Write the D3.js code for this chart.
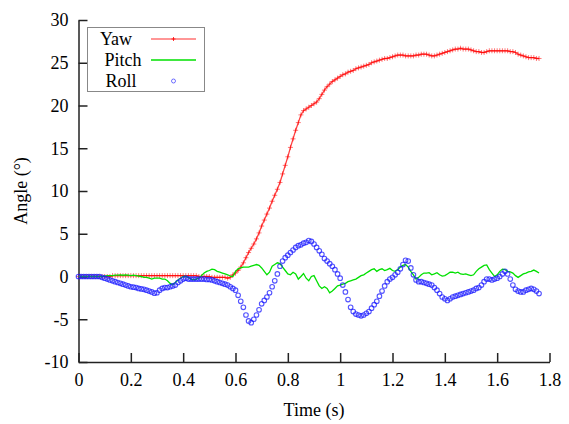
<!DOCTYPE html>
<html><head><meta charset="utf-8">
<script src="https://cdn.jsdelivr.net/npm/d3@7"></script>
<style>body{margin:0;background:#fff}svg{display:block}text{font-family:"Liberation Serif","Times New Roman",serif;fill:#000}</style>
</head><body><svg id="c" width="569" height="424"></svg>
<script>
const timeStep = 0.01; // seconds between samples
const yaw = [
0,0,0,0,0,0,0,0,0,0,
0,0,0,0.1,0.1,0.1,0.1,0.1,0.1,0.1,
0.1,0.1,0.1,0.1,0.1,0.1,0.1,0.1,0.1,0.1,
0.1,0.1,0.1,0.1,0.1,0.1,0.1,0.1,0.1,0.1,
0.1,0.1,0.1,0.1,0.1,0.1,0,0,0,0,
0,-0.1,-0.1,-0.1,-0.1,-0.1,-0.1,-0.2,-0.1,0.2,
0.4,0.7,1.1,1.6,2.2,2.8,3.3,3.8,4.4,5.1,
5.9,6.6,7.3,8.0,8.8,9.5,10.2,11.0,12.0,13.0,
14.0,15.1,16.1,17.1,18.0,18.9,19.4,19.6,19.8,20.0,
20.2,20.4,20.8,21.3,21.8,22.2,22.5,22.8,23.0,23.2,
23.4,23.6,23.7,23.9,24.0,24.1,24.3,24.4,24.5,24.6,
24.7,24.8,25.0,25.1,25.2,25.3,25.4,25.5,25.5,25.6,
25.7,25.8,25.9,25.9,25.9,25.8,25.8,25.8,25.8,25.9,
25.9,26.0,26.0,26.0,25.9,25.8,25.8,25.9,26.0,26.1,
26.2,26.3,26.4,26.5,26.6,26.6,26.7,26.6,26.6,26.6,
26.5,26.4,26.3,26.3,26.2,26.2,26.3,26.4,26.4,26.4,
26.4,26.4,26.4,26.4,26.4,26.3,26.3,26.2,26.0,25.9,
25.8,25.7,25.6,25.6,25.6,25.5,25.5];
const pitch = [
0,0,0,0,0,0,0,0,0,0,
0.05,0.1,0.1,0.1,0.15,0.15,0.2,0.15,0.2,0.15,
0.1,0.15,0.1,0.05,0,-0.1,-0.1,-0.2,-0.3,-0.2,
-0.2,-0.2,-0.3,-0.3,-0.5,-0.8,-0.95,-0.7,-0.4,-0.2,
0,0,-0.1,-0.3,-0.4,-0.3,-0.2,0.1,0.4,0.6,
0.7,0.85,0.8,0.6,0.5,0.4,0.3,0.2,0.05,0,
0.6,0.9,1.0,1.1,1.1,1.1,1.2,1.3,1.4,1.3,
1.0,0.6,0.2,0.5,1.2,1.4,1.6,1.5,1.1,0.7,
0.3,0.2,0.5,0.3,-0.3,0.0,0.35,-0.2,-0.5,0.0,
0.1,-0.5,-1.1,-1.4,-1.2,-1.4,-1.9,-1.7,-1.4,-1.1,
-1.0,-0.9,-0.8,-0.6,-0.5,-0.4,-0.3,-0.1,0.1,0.2,
0.4,0.6,0.8,0.9,0.6,0.8,0.9,0.7,0.8,0.95,
0.7,0.6,0.8,1.1,1.3,1.4,1.1,0.6,0.2,-0.3,
-0.1,0.2,0.4,0.4,0.45,0.2,0.3,0.45,0.2,0.05,
0.1,0.3,0.5,0.5,0.4,0.5,0.3,0.25,0.3,0.2,
0.1,0.2,0.6,0.9,1.1,1.3,1.35,0.8,0.4,0.0,
0.2,0.6,0.85,0.8,0.6,0.55,0.4,0.1,-0.1,0.1,
0.3,0.4,0.55,0.6,0.75,0.6,0.4];
const roll = [
0,0,0,0,0,0,0,0,0,-0.1,
-0.2,-0.3,-0.4,-0.5,-0.6,-0.7,-0.8,-0.9,-1.0,-1.1,
-1.2,-1.25,-1.3,-1.4,-1.45,-1.5,-1.6,-1.7,-1.8,-1.95,
-1.9,-1.6,-1.4,-1.3,-1.3,-1.2,-1.1,-1.0,-0.7,-0.5,
-0.3,-0.2,-0.3,-0.3,-0.3,-0.3,-0.3,-0.3,-0.3,-0.35,
-0.35,-0.4,-0.5,-0.6,-0.7,-0.8,-0.9,-1.0,-1.2,-1.4,
-1.6,-2.2,-2.9,-3.6,-4.5,-5.2,-5.4,-5.0,-4.5,-3.9,
-3.2,-2.8,-2.4,-1.9,-1.2,-0.5,0.3,1.2,1.8,2.2,
2.5,2.8,3.1,3.4,3.6,3.7,3.9,4.0,4.2,4.1,
3.8,3.4,3.0,2.6,2.1,1.8,1.5,1.2,0.8,0.3,
-0.2,-1.0,-1.8,-2.7,-3.6,-4.1,-4.4,-4.5,-4.6,-4.5,
-4.3,-4.1,-3.7,-3.3,-2.9,-2.3,-1.7,-1.1,-0.6,-0.3,
-0.1,0.2,0.5,0.9,1.4,1.9,1.8,1.0,0.2,-0.4,
-0.6,-0.6,-0.7,-0.8,-0.9,-1.0,-1.3,-1.6,-2.0,-2.4,
-2.6,-2.8,-2.6,-2.4,-2.3,-2.2,-2.1,-2.0,-1.9,-1.8,
-1.7,-1.6,-1.4,-1.3,-1.0,-0.6,-0.3,-0.3,-0.4,-0.3,
-0.2,0.0,0.3,0.6,0.3,-0.3,-1.0,-1.5,-1.7,-1.8,
-1.8,-1.6,-1.5,-1.4,-1.5,-1.7,-2.0];
const xTicks = [0,0.2,0.4,0.6,0.8,1,1.2,1.4,1.6,1.8];
const xTickLabels = ["0","0.2","0.4","0.6","0.8","1","1.2","1.4","1.6","1.8"];
const yTicks = [-10,-5,0,5,10,15,20,25,30];
const yTickLabels = ["-10","-5","0","5","10","15","20","25","30"];
const seriesNames = ["Yaw","Pitch","Roll"];
const xTitle = "Time (s)";
const yTitle = "Angle (°)";

const svg = d3.select("#c");
const x = d3.scaleLinear().domain([0,1.8]).range([78.5,549.5]);
const y = d3.scaleLinear().domain([-10,30]).range([362,20]);
const fs = 18;

const pts = arr => arr.map((v,i)=>({t:i*timeStep, v}));
const Y = pts(yaw), P = pts(pitch), R = pts(roll);
const line = d3.line().x(d=>x(d.t)).y(d=>y(d.v));

// axes
const xa = svg.append("g").attr("transform","translate(0,362)")
  .call(d3.axisBottom(x).tickValues(xTicks).tickSizeInner(-9).tickSizeOuter(0).tickPadding(18)
    .tickFormat((d,i)=>xTickLabels[i]));
const ya = svg.append("g").attr("transform","translate(78.5,0)")
  .call(d3.axisLeft(y).tickValues(yTicks).tickSizeInner(-9).tickSizeOuter(0).tickPadding(10)
    .tickFormat((d,i)=>yTickLabels[i]));
[xa,ya].forEach(g=>{
  g.select(".domain").attr("stroke","#222").attr("stroke-width",1.5);
  g.selectAll(".tick line").attr("stroke","#222").attr("stroke-width",1.5);
  g.selectAll("text").attr("font-size",fs).attr("font-family","Liberation Serif, serif").attr("fill","#000");
});
xa.selectAll("text").attr("dy","0.32em");

svg.append("text").attr("x",314).attr("y",416).attr("text-anchor","middle").attr("font-size",fs).text(xTitle);
svg.append("text").attr("transform","translate(27,191) rotate(-90)").attr("text-anchor","middle").attr("font-size",fs).text(yTitle);

// Yaw
svg.append("path").datum(Y).attr("d",line).attr("fill","none").attr("stroke","#ff2020").attr("stroke-width",1.3).attr("opacity",0.85);
svg.append("g").selectAll("path").data(Y).join("path")
  .attr("transform",d=>`translate(${x(d.t)},${y(d.v)})`)
  .attr("d","M-2.5,0H2.5M0,-2.5V2.5").attr("stroke","#ff0000").attr("stroke-width",0.9).attr("opacity",0.6).attr("fill","none");
// Pitch
svg.append("path").datum(P).attr("d",line).attr("fill","none").attr("stroke","#00e000").attr("stroke-width",1.3);
// Roll
svg.append("g").selectAll("circle").data(R).join("circle")
  .attr("cx",d=>x(d.t)).attr("cy",d=>y(d.v)).attr("r",2.3)
  .attr("fill","none").attr("stroke","#1a1aff").attr("stroke-width",1.1).attr("opacity",0.75);

// legend
const lg = svg.append("g");
lg.append("rect").attr("x",87.5).attr("y",27.5).attr("width",117).attr("height",64)
  .attr("fill","#fff").attr("stroke","#888").attr("stroke-width",1);
const rowY = [39,60,81];
const textX = [116,123,121];
seriesNames.forEach((n,i)=>{
  lg.append("text").attr("x",textX[i]).attr("y",rowY[i]).attr("dy","0.35em").attr("text-anchor","middle").attr("font-size",fs).text(n);
});
lg.append("line").attr("x1",151).attr("x2",196).attr("y1",rowY[0]).attr("y2",rowY[0]).attr("stroke","#ff5050").attr("stroke-width",1.3).attr("opacity",0.8);
lg.append("path").attr("transform",`translate(173.5,${rowY[0]})`).attr("d","M-2,0H2M0,-2V2").attr("stroke","#ff0000").attr("stroke-width",0.8);
lg.append("line").attr("x1",151).attr("x2",196).attr("y1",rowY[1]).attr("y2",rowY[1]).attr("stroke","#00e000").attr("stroke-width",1.5);
lg.append("circle").attr("cx",173.5).attr("cy",rowY[2]).attr("r",2).attr("fill","none").attr("stroke","#2020ff").attr("stroke-width",0.9).attr("opacity",0.7);
</script></body></html>
